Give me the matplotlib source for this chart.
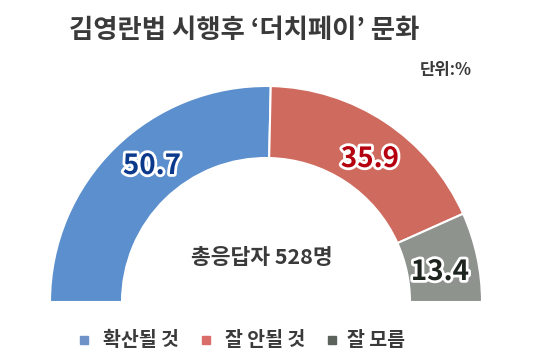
import matplotlib
matplotlib.use("Agg")
import matplotlib.pyplot as plt
import matplotlib.patheffects as pe
from matplotlib.patches import Rectangle
from matplotlib import font_manager

plt.rcParams['font.family'] = ['Noto Sans CJK KR', 'DejaVu Sans']

categories = ['확산될 것', '잘 안될 것', '잘 모름']
values = [50.7, 35.9, 13.4]
value_labels = ['50.7', '35.9', '13.4']
title = "김영란법 시행후 ‘더치페이’ 문화"
unit = "단위:%"
center_text = "총응답자 528명"

colors = ['#5b8fcd', '#cf6a5e', '#8e938e']
legend_colors = ['#6f93c8', '#d86d6a', '#5c625c']
label_colors = ['#0b3a8c', '#b5000f', '#1e241e']

names = {f.name for f in font_manager.fontManager.ttflist}
if 'Liberation Sans Narrow' in names:
    num_family, num_size = ['Liberation Sans Narrow'], 24
else:
    num_family, num_size = ['Noto Sans CJK KR'], 20

W, H = 557, 358
fig = plt.figure(figsize=(W / 100, H / 100), dpi=100)
ax = fig.add_axes([0, 0, 1, 1])

cx, cy, R = 266, H - 302, 216
ring = 72 / R

pie_vals = values + [sum(values)]
wedges, _ = ax.pie(pie_vals, colors=colors + ['none'], startangle=180,
                   counterclock=False, radius=R, center=(cx, cy),
                   wedgeprops=dict(width=R * ring, edgecolor='white', linewidth=1.5),
                   frame=True)
wedges[-1].set_visible(False)
ax.set_xlim(0, W)
ax.set_ylim(0, H)
ax.set_aspect('equal')
ax.axis('off')

# value labels
label_pos = [(152, H - 166), (370, H - 159), (440, H - 272)]
for (x, y), t, c in zip(label_pos, value_labels, label_colors):
    ax.text(x, y, t, ha='center', va='center', fontsize=num_size, fontweight='bold',
            color=c, family=num_family,
            path_effects=[pe.withStroke(linewidth=4, foreground='white')])

ax.text(262, H - 257, center_text, ha='center', va='center', fontsize=15.5,
        fontweight='bold', color='#3a3a3a')

fig.text(244 / W, 1 - 30 / H, title, ha='center', va='center', fontsize=19,
         fontweight='heavy', color='#3a3a3a')
fig.text(472 / W, 1 - 70 / H, unit, ha='right', va='center', fontsize=12,
         fontweight='bold', color='#3a3a3a')

# legend
leg_x = [80, 202, 328]
text_x = [103, 225, 347]
ly = H - 340
for lx, tx, lab, c in zip(leg_x, text_x, categories, legend_colors):
    ax.add_patch(Rectangle((lx, ly - 4), 8, 8, color=c))
    ax.text(tx, ly, lab, ha='left', va='center', fontsize=14, fontweight='bold',
            color='#3a3a3a')

fig.savefig('out.png', dpi=100, facecolor='white')
